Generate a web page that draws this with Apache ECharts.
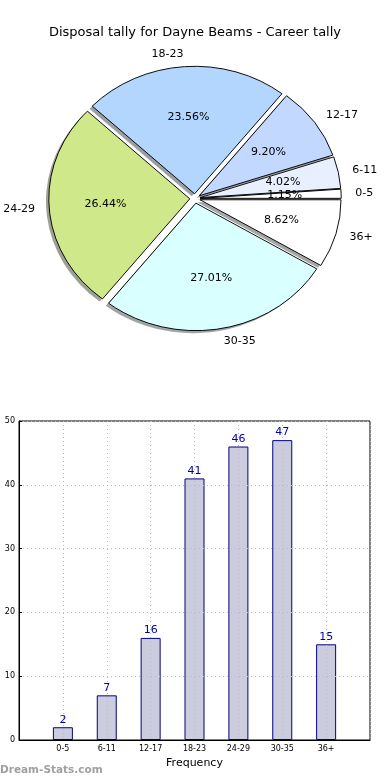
<!DOCTYPE html>
<html>
<head>
<meta charset="utf-8">
<script src="https://cdn.jsdelivr.net/npm/echarts@6/dist/echarts.min.js"></script>
<style>
html,body{margin:0;padding:0;background:#fff;}
#c{width:390px;height:780px;}
</style>
</head>
<body>
<div id="c"></div>
<script>
var categories = ['0-5', '6-11', '12-17', '18-23', '24-29', '30-35', '36+'];
var counts = [2, 7, 16, 41, 46, 47, 15];
var sliceColors = ['#ffffff', '#e8f0ff', '#c2d8ff', '#b3d6ff', '#cfe98a', '#d9ffff', '#ffffff'];
var yTicks = [0, 10, 20, 30, 40, 50];

var FONT = 'DejaVu Sans';
var total = counts.reduce(function (a, b) { return a + b; }, 0);
var PIE = { cx: 195, cy: 198.5, rx: 141, ry: 127.5, explode: 0.037 };

function shadowColor(hex) {
  var r = parseInt(hex.substr(1, 2), 16), g = parseInt(hex.substr(3, 2), 16), b = parseInt(hex.substr(5, 2), 16);
  return 'rgba(' + Math.round(r * 0.3) + ',' + Math.round(g * 0.3) + ',' + Math.round(b * 0.3) + ',0.5)';
}

function renderSlice(params, api) {
  var i = params.dataIndex;
  var before = 0;
  for (var k = 0; k < i; k++) before += counts[k];
  var v = api.value(0);
  var t1 = before / total * 2 * Math.PI;
  var t2 = (before + v) / total * 2 * Math.PI;
  var tm = (t1 + t2) / 2;
  var c = Math.cos(tm), s = Math.sin(tm);
  var ox = PIE.cx + PIE.explode * PIE.rx * c;
  var oy = PIE.cy - PIE.explode * PIE.ry * s;
  var sx = PIE.rx / PIE.ry;
  var sector = { cx: 0, cy: 0, r0: 0, r: PIE.ry, startAngle: -t2, endAngle: -t1, clockwise: true };
  var lx = ox + 1.1 * PIE.rx * c, ly = oy - 1.1 * PIE.ry * s;
  var px = ox + 0.6 * PIE.rx * c, py = oy - 0.6 * PIE.ry * s;
  var col = sliceColors[i];
  return {
    type: 'group',
    children: [
      { type: 'sector', x: ox - 0.02 * PIE.rx, y: oy + 0.02 * PIE.ry, scaleX: sx, scaleY: 1,
        shape: sector, z2: 0, style: { fill: shadowColor(col), stroke: null } },
      { type: 'sector', x: ox, y: oy, scaleX: sx, scaleY: 1, strokeNoScale: true,
        shape: sector, z2: 5, style: { fill: col, stroke: '#000', lineWidth: 0.9 } },
      { type: 'text', x: lx, y: ly, z2: 10,
        style: { text: categories[i], fill: '#000', font: '11px "' + FONT + '"',
                 align: c < 0 ? 'right' : 'left', verticalAlign: 'middle' } },
      { type: 'text', x: px, y: py, z2: 10,
        style: { text: (v / total * 100).toFixed(2) + '%', fill: '#000', font: '11px "' + FONT + '"',
                 align: 'center', verticalAlign: 'middle' } }
    ]
  };
}

var barData = counts.map(function (v, i) { return [i + 1, v]; });

var chart = echarts.init(document.getElementById('c'), null, { renderer: 'canvas' });
chart.setOption({
  animation: false,
  backgroundColor: '#fff',
  textStyle: { fontFamily: FONT },
  title: {
    text: 'Disposal tally for Dayne Beams - Career tally',
    left: 'center', top: 21,
    textStyle: { fontFamily: FONT, fontSize: 13, fontWeight: 'normal', color: '#000' }
  },
  graphic: [{
    type: 'text', left: 0, top: 765,
    style: { text: 'Dream-Stats.com', fill: '#a0a0a0', font: 'bold 10.5px "' + FONT + '"' }
  }],
  grid: { left: 19, right: 20, top: 421, bottom: 40, show: true, borderColor: '#000', borderWidth: 1, backgroundColor: 'transparent' },
  xAxis: [{
    type: 'value', min: 0, max: 8, interval: 1, z: 3,
    name: 'Frequency', nameLocation: 'middle', nameGap: 18,
    nameTextStyle: { fontFamily: FONT, fontSize: 11, color: '#000' },
    axisLine: { show: true, lineStyle: { color: '#000' } },
    axisTick: { show: false },
    axisLabel: { fontFamily: FONT, fontSize: 8, color: '#000', margin: 5,
      formatter: function (v) { return categories[v - 1] || ''; } },
    splitLine: { show: true, lineStyle: { color: '#bbb', type: [1, 3], width: 1 } }
  }],
  yAxis: [{
    type: 'value', min: 0, max: 50, interval: 10, z: 3,
    axisLine: { show: true, lineStyle: { color: '#000' } },
    axisTick: { show: true, inside: true, length: 3, lineStyle: { color: '#000' } },
    axisLabel: { fontFamily: FONT, fontSize: 8, color: '#000', margin: 4,
      formatter: function (v) { return yTicks.indexOf(v) >= 0 ? String(v) : ''; } },
    splitLine: { show: true, lineStyle: { color: '#bbb', type: [1, 3], width: 1 } }
  }],
  series: [{
    type: 'custom',
    coordinateSystem: 'none',
    data: counts.map(function (v) { return [v]; }),
    renderItem: renderSlice,
    silent: true
  }, {
    type: 'bar',
    xAxisIndex: 0, yAxisIndex: 0,
    data: barData,
    barWidth: 20,
    itemStyle: { color: '#ccccdf', borderColor: '#00007f', borderWidth: 1 },
    label: { show: true, position: 'top', distance: 2, color: '#0000a0', fontFamily: FONT, fontSize: 11,
      formatter: function (p) { return String(p.value[1]); } }
  }]
});
</script>
</body>
</html>
